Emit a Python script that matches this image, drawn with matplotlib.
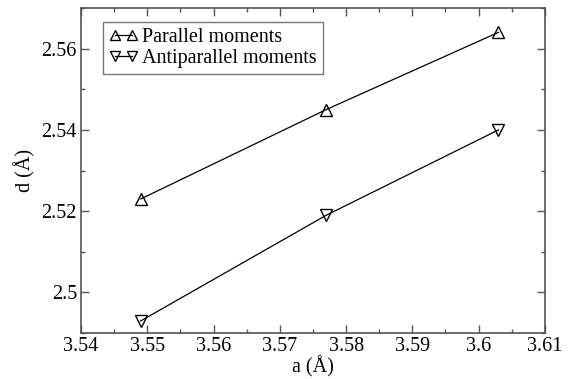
import matplotlib
matplotlib.use("Agg")
import matplotlib.pyplot as plt
from matplotlib.ticker import MultipleLocator

plt.rcParams['font.family'] = ['Liberation Serif', 'DejaVu Serif']

# lattice constant a (Angstrom) and interatomic distance d (Angstrom)
a_vals = [3.549, 3.577, 3.603]
d_parallel = [2.523, 2.545, 2.564]
d_antiparallel = [2.493, 2.519, 2.540]

x_ticks = [3.54, 3.55, 3.56, 3.57, 3.58, 3.59, 3.6, 3.61]
x_labels = ['3.54', '3.55', '3.56', '3.57', '3.58', '3.59', '3.6', '3.61']
y_ticks = [2.5, 2.52, 2.54, 2.56]
y_labels = ['2.5', '2.52', '2.54', '2.56']

fs = 14.5

fig = plt.figure(figsize=(5.79, 3.79), dpi=100)
ax = fig.add_axes([0.140, 0.121, 0.801, 0.858])

ax.plot(a_vals, d_parallel, color='black', lw=0.9, marker='^', ms=8,
        mfc='none', mec='black', mew=1.0, label='Parallel moments')
ax.plot(a_vals, d_antiparallel, color='black', lw=0.9, marker='v', ms=8,
        mfc='none', mec='black', mew=1.0, label='Antiparallel moments')

ax.set_xlim(3.54, 3.61)
ax.set_ylim(2.49, 2.57)
ax.xaxis.set_minor_locator(MultipleLocator(0.005))
ax.yaxis.set_minor_locator(MultipleLocator(0.01))
ax.set_xticks(x_ticks)
ax.set_xticklabels(x_labels)
ax.set_yticks(y_ticks)
ax.set_yticklabels(y_labels)

ax.tick_params(which='both', direction='in', top=True, right=True,
               labelsize=fs, color='#555555', pad=3)
ax.tick_params(which='major', length=6, width=1.0)
ax.tick_params(which='minor', length=3, width=1.0)
for s in ax.spines.values():
    s.set_color('#555555')
    s.set_linewidth(1.2)

ax.set_xlabel('a (Å)', fontsize=fs, labelpad=0)
ax.set_ylabel('d (Å)', fontsize=fs, labelpad=4)

leg = ax.legend(loc='upper left', bbox_to_anchor=(0.047, 0.957), fontsize=fs,
                frameon=True, fancybox=False, edgecolor='#555555',
                handlelength=1.45, numpoints=2, borderpad=0.3,
                labelspacing=0.1, handletextpad=0.2, borderaxespad=0)
leg.get_frame().set_linewidth(1.0)
for h in leg.legend_handles:
    h.set_markersize(7)

fig.savefig('out.png', dpi=100)
